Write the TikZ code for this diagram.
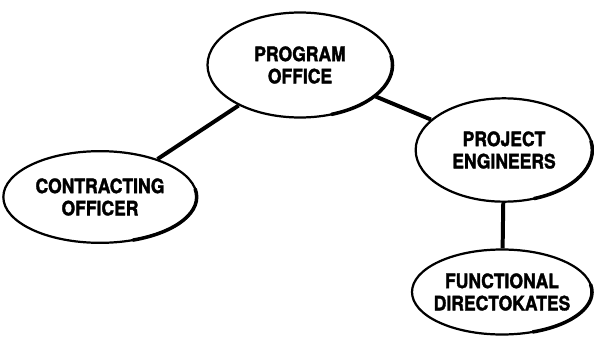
\documentclass[tikz,border=0pt]{standalone}
\usepackage{fontspec}
\setmainfont[FakeStretch=0.88, BoldFeatures={FakeBold=1.6}]{TeX Gyre Heros}
\usetikzlibrary{shapes.geometric}

\begin{document}
\begin{tikzpicture}[x=0.03cm, y=-0.03cm,
  every node/.style={font=\bfseries\fontsize{17}{19}\selectfont, align=center},
  office/.style={ellipse, draw, line width=1.9pt, inner xsep=-1.2cm, inner ysep=-0.5cm},
  link/.style={line width=3.4pt}]
\useasboundingbox (0,0) rectangle (594,341);

\node[office, minimum width=5.55cm, minimum height=3.15cm] (po) at (300,65) {PROGRAM\\OFFICE};
\node[office, minimum width=5.8cm, minimum height=2.75cm] (co) at (100,197) {CONTRACTING\\OFFICER};
\node[office, minimum width=5.3cm, minimum height=3.1cm] (pe) at (504,150) {PROJECT\\ENGINEERS};
\node[office, minimum width=5.4cm, minimum height=2.55cm] (fd) at (502,292) {FUNCTIONAL\\DIRECTOKATES};

% heavier lower right rims
\foreach \n/\rx/\ry in {po/2.775/1.575, co/2.9/1.375, pe/2.65/1.55, fd/2.7/1.275} {
  \draw[line width=3pt, line cap=round] (\n.center) ++(10:\rx cm and \ry cm)
    arc[start angle=10, end angle=-70, x radius=\rx cm, y radius=\ry cm];
}

\draw[link] (po) -- (co);
\draw[link] (po) -- (pe);
\draw[link] (pe) -- (fd);
\end{tikzpicture}
\end{document}
